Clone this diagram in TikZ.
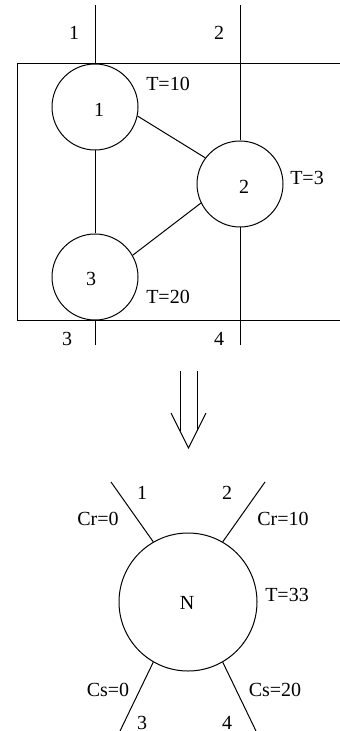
\documentclass[tikz,border=0pt]{standalone}
\usepackage{fontspec}
\setmainfont{Liberation Serif}
\usepackage{tikz}
\usetikzlibrary{positioning}
\definecolor{ink}{RGB}{0,0,0}
\tikzset{
  wire/.style={line width=0.5pt,ink},
  proc/.style={draw=ink,line width=0.5pt,circle,inner sep=0pt,minimum size=43pt},
  merged/.style={proc,minimum size=69pt},
  lbl/.style={inner sep=0pt,text=ink,font=\fontsize{10}{12}\selectfont}
}
\begin{document}
\begin{tikzpicture}[x=0.5pt,y=-0.5pt]
  \useasboundingbox (0,0) rectangle (339,731);
  % before: three processes in a box
  \draw[wire] (345,64) -- (17,64) -- (17,320) -- (345,320);
  \node[proc] (c1) at (95,107) {};
  \node[proc] (c2) at (240,184) {};
  \node[proc] (c3) at (95,277) {};
  \coordinate (in1) at (95,5);
  \coordinate (in2) at (240,5);
  \coordinate (out3) at (95,345);
  \coordinate (out4) at (240,345);
  \draw[wire] (in1) -- (c1);
  \draw[wire] (c1) -- (c3);
  \draw[wire] (c3) -- (out3);
  \draw[wire] (in2) -- (c2);
  \draw[wire] (c2) -- (out4);
  \draw[wire] (c1.-12) -- (c2.143);
  \draw[wire] (c2.206) -- (c3.30);
  \node[lbl] (p1) at (99,110) {1};
  \node[lbl] (p2) at (244,187) {2};
  \node[lbl] (p3) at (91,279) {3};
  \node[lbl] (t1) at (168,84) {T=10};
  \node[lbl] (t2) at (307,178) {T=3};
  \node[lbl] (t3) at (168,297) {T=20};
  \node[lbl] (i1) at (74,33) {1};
  \node[lbl] (i2) at (219,33) {2};
  \node[lbl] (o3) at (67,339) {3};
  \node[lbl] (o4) at (219,339) {4};
  % the double arrow
  \draw[wire] (180,371) -- (180,431);
  \draw[wire] (197,371) -- (197,431);
  \draw[wire] (171,413) -- (188.5,448) -- (206,413);
  % after: one merged process
  \node[merged] (n) at (188,602) {};
  \node[lbl] (nl) at (187,603) {N};
  \coordinate (e1) at (111,482);
  \coordinate (e2) at (265,482);
  \coordinate (e3) at (120,731);
  \coordinate (e4) at (256,731);
  \draw[wire] (n.120) -- (e1);
  \draw[wire] (n.60) -- (e2);
  \draw[wire] (n.240) -- (e3);
  \draw[wire] (n.300) -- (e4);
  \node[lbl] (k1) at (142,493) {1};
  \node[lbl] (k2) at (227,493) {2};
  \node[lbl] (k3) at (142,723) {3};
  \node[lbl] (k4) at (227,723) {4};
  \node[lbl] (cr1) at (98,519) {Cr=0};
  \node[lbl] (cr2) at (283,519) {Cr=10};
  \node[lbl] (tn) at (287,595) {T=33};
  \node[lbl] (cs1) at (108,690) {Cs=0};
  \node[lbl] (cs2) at (275,690) {Cs=20};
\end{tikzpicture}
\end{document}
